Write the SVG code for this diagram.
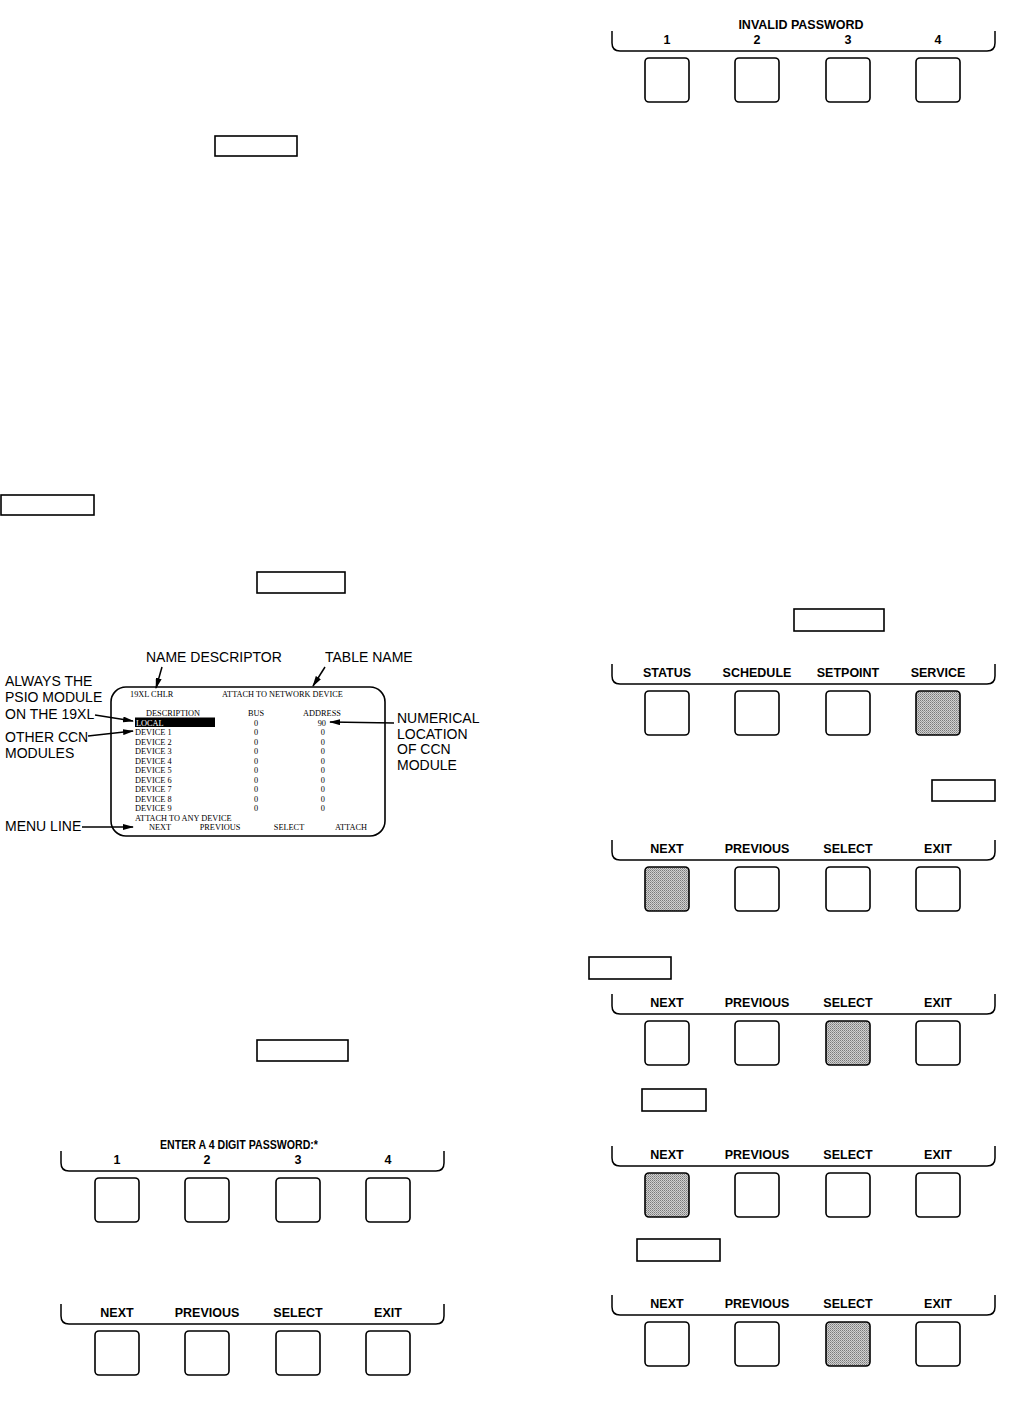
<svg xmlns="http://www.w3.org/2000/svg" width="1036" height="1418" viewBox="0 0 1036 1418">
<style>
.bx{fill:none;stroke:#000;stroke-width:1.6}
.br{fill:none;stroke:#000;stroke-width:1.5}
.bt{fill:#fff;stroke:#000;stroke-width:1.6}
.sh{fill:url(#dots);stroke:#000;stroke-width:1.6}
.kl{font-family:"Liberation Sans",Arial,sans-serif;font-weight:bold;font-size:12.5px;text-anchor:middle;fill:#000}
.lb{font-family:"Liberation Sans",Arial,sans-serif;font-size:14px;fill:#000}
.sc{font-family:"Liberation Serif","Times New Roman",serif;font-size:8.3px;fill:#000}
.scm{font-family:"Liberation Serif","Times New Roman",serif;font-size:8.3px;fill:#000;text-anchor:middle}
.scr{font-family:"Liberation Serif","Times New Roman",serif;font-size:8.3px;fill:#000;text-anchor:end}
.ar{fill:none;stroke:#000;stroke-width:1.5;marker-end:url(#ah)}
</style>
<defs>
<pattern id="dots" width="2" height="2" patternUnits="userSpaceOnUse">
<rect width="2" height="2" fill="#d0d0d0"/>
<rect width="1" height="1" fill="#7a7a7a"/>
<rect x="1" y="1" width="1" height="1" fill="#9a9a9a"/>
</pattern>
<marker id="ah" markerWidth="11" markerHeight="6" refX="10" refY="3" orient="auto" markerUnits="userSpaceOnUse">
<path d="M0,0 L11,3 L0,6 z" fill="#000"/>
</marker>
</defs>
<rect width="1036" height="1418" fill="#fff"/>

<g id="box-a"><rect class="bx" x="215" y="136" width="82" height="20"/></g>
<g id="box-b"><rect class="bx" x="1" y="495" width="93" height="20"/></g>
<g id="box-c"><rect class="bx" x="257" y="572" width="88" height="21"/></g>
<g id="box-d"><rect class="bx" x="257" y="1040" width="91" height="21"/></g>
<g id="box-e"><rect class="bx" x="794" y="609" width="90" height="22"/></g>
<g id="box-f"><rect class="bx" x="932" y="780" width="63" height="21"/></g>
<g id="box-g"><rect class="bx" x="589" y="957" width="82" height="22"/></g>
<g id="box-h"><rect class="bx" x="642" y="1089" width="64" height="22"/></g>
<g id="box-i"><rect class="bx" x="637" y="1239" width="83" height="22"/></g>

<g id="keypad-invalid">
<text class="kl" x="801" y="29">INVALID PASSWORD</text>
<path class="br" d="M612,31 V43 Q612,51 620,51 H987 Q995,51 995,43 V31"/>
<text class="kl" x="667" y="44">1</text><text class="kl" x="757" y="44">2</text><text class="kl" x="848" y="44">3</text><text class="kl" x="938" y="44">4</text>
<rect class="bt" x="645" y="58" width="44" height="44" rx="4"/><rect class="bt" x="735" y="58" width="44" height="44" rx="4"/><rect class="bt" x="826" y="58" width="44" height="44" rx="4"/><rect class="bt" x="916" y="58" width="44" height="44" rx="4"/>
</g>

<g id="keypad-status">
<path class="br" d="M612,664 V676 Q612,684 620,684 H987 Q995,684 995,676 V664"/>
<text class="kl" x="667" y="677">STATUS</text><text class="kl" x="757" y="677">SCHEDULE</text><text class="kl" x="848" y="677">SETPOINT</text><text class="kl" x="938" y="677">SERVICE</text>
<rect class="bt" x="645" y="691" width="44" height="44" rx="4"/><rect class="bt" x="735" y="691" width="44" height="44" rx="4"/><rect class="bt" x="826" y="691" width="44" height="44" rx="4"/><rect class="sh" x="916" y="691" width="44" height="44" rx="4"/>
</g>

<g id="keypad-next-1">
<path class="br" d="M612,840 V852 Q612,860 620,860 H987 Q995,860 995,852 V840"/>
<text class="kl" x="667" y="853">NEXT</text><text class="kl" x="757" y="853">PREVIOUS</text><text class="kl" x="848" y="853">SELECT</text><text class="kl" x="938" y="853">EXIT</text>
<rect class="sh" x="645" y="867" width="44" height="44" rx="4"/><rect class="bt" x="735" y="867" width="44" height="44" rx="4"/><rect class="bt" x="826" y="867" width="44" height="44" rx="4"/><rect class="bt" x="916" y="867" width="44" height="44" rx="4"/>
</g>

<g id="keypad-select-1">
<path class="br" d="M612,994 V1006 Q612,1014 620,1014 H987 Q995,1014 995,1006 V994"/>
<text class="kl" x="667" y="1007">NEXT</text><text class="kl" x="757" y="1007">PREVIOUS</text><text class="kl" x="848" y="1007">SELECT</text><text class="kl" x="938" y="1007">EXIT</text>
<rect class="bt" x="645" y="1021" width="44" height="44" rx="4"/><rect class="bt" x="735" y="1021" width="44" height="44" rx="4"/><rect class="sh" x="826" y="1021" width="44" height="44" rx="4"/><rect class="bt" x="916" y="1021" width="44" height="44" rx="4"/>
</g>

<g id="keypad-next-2">
<path class="br" d="M612,1146 V1158 Q612,1166 620,1166 H987 Q995,1166 995,1158 V1146"/>
<text class="kl" x="667" y="1159">NEXT</text><text class="kl" x="757" y="1159">PREVIOUS</text><text class="kl" x="848" y="1159">SELECT</text><text class="kl" x="938" y="1159">EXIT</text>
<rect class="sh" x="645" y="1173" width="44" height="44" rx="4"/><rect class="bt" x="735" y="1173" width="44" height="44" rx="4"/><rect class="bt" x="826" y="1173" width="44" height="44" rx="4"/><rect class="bt" x="916" y="1173" width="44" height="44" rx="4"/>
</g>

<g id="keypad-select-2">
<path class="br" d="M612,1295 V1307 Q612,1315 620,1315 H987 Q995,1315 995,1307 V1295"/>
<text class="kl" x="667" y="1308">NEXT</text><text class="kl" x="757" y="1308">PREVIOUS</text><text class="kl" x="848" y="1308">SELECT</text><text class="kl" x="938" y="1308">EXIT</text>
<rect class="bt" x="645" y="1322" width="44" height="44" rx="4"/><rect class="bt" x="735" y="1322" width="44" height="44" rx="4"/><rect class="sh" x="826" y="1322" width="44" height="44" rx="4"/><rect class="bt" x="916" y="1322" width="44" height="44" rx="4"/>
</g>

<g id="keypad-enter">
<text class="kl" x="160" y="1149" style="text-anchor:start" textLength="158" lengthAdjust="spacingAndGlyphs">ENTER A 4 DIGIT PASSWORD:*</text>
<path class="br" d="M61,1151 V1163 Q61,1171 69,1171 H436 Q444,1171 444,1163 V1151"/>
<text class="kl" x="117" y="1164">1</text><text class="kl" x="207" y="1164">2</text><text class="kl" x="298" y="1164">3</text><text class="kl" x="388" y="1164">4</text>
<rect class="bt" x="95" y="1178" width="44" height="44" rx="4"/><rect class="bt" x="185" y="1178" width="44" height="44" rx="4"/><rect class="bt" x="276" y="1178" width="44" height="44" rx="4"/><rect class="bt" x="366" y="1178" width="44" height="44" rx="4"/>
</g>

<g id="keypad-next-left">
<path class="br" d="M61,1304 V1316 Q61,1324 69,1324 H436 Q444,1324 444,1316 V1304"/>
<text class="kl" x="117" y="1317">NEXT</text><text class="kl" x="207" y="1317">PREVIOUS</text><text class="kl" x="298" y="1317">SELECT</text><text class="kl" x="388" y="1317">EXIT</text>
<rect class="bt" x="95" y="1331" width="44" height="44" rx="4"/><rect class="bt" x="185" y="1331" width="44" height="44" rx="4"/><rect class="bt" x="276" y="1331" width="44" height="44" rx="4"/><rect class="bt" x="366" y="1331" width="44" height="44" rx="4"/>
</g>

<g id="screen">
<rect x="111" y="687" width="274" height="149" rx="15" fill="none" stroke="#000" stroke-width="1.6"/>
<text class="sc" x="130" y="697">19XL CHLR</text>
<text class="sc" x="222" y="697">ATTACH TO NETWORK DEVICE</text>
<text class="scm" x="173" y="716">DESCRIPTION</text>
<text class="scm" x="256" y="716">BUS</text>
<text class="scm" x="322" y="716">ADDRESS</text>
<rect x="135" y="717.5" width="80" height="9.5" fill="#000"/>
<text class="sc" x="136" y="725.5" style="fill:#fff">LOCAL</text>
<text class="scm" x="256" y="725.5">0</text><text class="scr" x="326" y="725.5">90</text>
<text class="sc" x="135" y="735">DEVICE 1</text><text class="scm" x="256" y="735">0</text><text class="scr" x="325" y="735">0</text>
<text class="sc" x="135" y="744.5">DEVICE 2</text><text class="scm" x="256" y="744.5">0</text><text class="scr" x="325" y="744.5">0</text>
<text class="sc" x="135" y="754">DEVICE 3</text><text class="scm" x="256" y="754">0</text><text class="scr" x="325" y="754">0</text>
<text class="sc" x="135" y="763.5">DEVICE 4</text><text class="scm" x="256" y="763.5">0</text><text class="scr" x="325" y="763.5">0</text>
<text class="sc" x="135" y="773">DEVICE 5</text><text class="scm" x="256" y="773">0</text><text class="scr" x="325" y="773">0</text>
<text class="sc" x="135" y="782.5">DEVICE 6</text><text class="scm" x="256" y="782.5">0</text><text class="scr" x="325" y="782.5">0</text>
<text class="sc" x="135" y="792">DEVICE 7</text><text class="scm" x="256" y="792">0</text><text class="scr" x="325" y="792">0</text>
<text class="sc" x="135" y="801.5">DEVICE 8</text><text class="scm" x="256" y="801.5">0</text><text class="scr" x="325" y="801.5">0</text>
<text class="sc" x="135" y="811">DEVICE 9</text><text class="scm" x="256" y="811">0</text><text class="scr" x="325" y="811">0</text>
<text class="sc" x="135" y="820.5">ATTACH TO ANY DEVICE</text>
<text class="scm" x="160" y="830">NEXT</text><text class="scm" x="220" y="830">PREVIOUS</text><text class="scm" x="289" y="830">SELECT</text><text class="scm" x="351" y="830">ATTACH</text>
</g>

<g id="lbl-name-descriptor"><text class="lb" x="146" y="662">NAME DESCRIPTOR</text></g>
<g id="lbl-table-name"><text class="lb" x="325" y="662">TABLE NAME</text></g>
<g id="lbl-always"><text class="lb" x="5" y="686">ALWAYS THE</text><text class="lb" x="5" y="702">PSIO MODULE</text><text class="lb" x="5" y="719">ON THE 19XL</text></g>
<g id="lbl-other"><text class="lb" x="5" y="742">OTHER CCN</text><text class="lb" x="5" y="758">MODULES</text></g>
<g id="lbl-numerical"><text class="lb" x="397" y="723">NUMERICAL</text><text class="lb" x="397" y="739">LOCATION</text><text class="lb" x="397" y="754">OF CCN</text><text class="lb" x="397" y="770">MODULE</text></g>
<g id="lbl-menu"><text class="lb" x="5" y="831">MENU LINE</text></g>

<g id="connectors">
<line class="ar" x1="162" y1="667" x2="156" y2="688"/>
<line class="ar" x1="325" y1="667" x2="313" y2="686"/>
<line class="ar" x1="95" y1="715" x2="133" y2="721"/>
<line class="ar" x1="88" y1="736" x2="133" y2="731"/>
<line class="ar" x1="82" y1="827" x2="133" y2="827"/>
<line class="ar" x1="394" y1="723" x2="330" y2="722"/>
</g>
</svg>
